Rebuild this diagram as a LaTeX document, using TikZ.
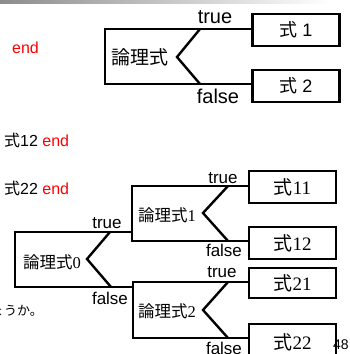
\documentclass[tikz,border=0pt]{standalone}
\usepackage{fontspec}
\setmainfont{Liberation Sans}
\newfontfamily\cjk{Noto Sans CJK JP}
\newfontfamily\serifd{Liberation Serif}
\begin{document}
\begin{tikzpicture}[x=1pt,y=-1pt,
  thick line/.style={line width=2.4pt},
  exprbox/.style={draw,line width=2.4pt,minimum width=87pt,inner sep=0pt,anchor=center},
  lbl/.style={inner sep=0pt,anchor=center},
  fsa/.style={font=\fontsize{20}{20}\selectfont},
  fsb/.style={font=\fontsize{17}{17}\selectfont},
  redtxt/.style={text=red}]
\useasboundingbox (0,0) rectangle (350,354);
\shade[left color=black!45, right color=white] (0,0) rectangle (330,3);

% ---------- left texts ----------
\node[lbl,anchor=west,redtxt,font=\fontsize{16}{16}\selectfont] (endA) at (12,48) {end};
\node[lbl,anchor=west,font=\fontsize{16}{16}\selectfont] (tB) at (4,140) {{\cjk 式}12 \textcolor{red}{end}};
\node[lbl,anchor=west,font=\fontsize{16}{16}\selectfont] (tC) at (4,188) {{\cjk 式}22 \textcolor{red}{end}};
\node[lbl,anchor=east,font=\fontsize{13}{13}\selectfont] (tD) at (43,311) {\cjk ょうか。};
\node[lbl,font=\fontsize{14}{14}\selectfont] (pg) at (341,345) {48};

% ---------- top diagram ----------
\node[exprbox,minimum height=32pt,font=\fontsize{18}{18}\selectfont] (e1) at (296,30) {{\cjk 式} 1};
\node[exprbox,minimum height=32pt,font=\fontsize{18}{18}\selectfont] (e2) at (296,86) {{\cjk 式} 2};
\node[lbl,font=\fontsize{19}{19}\selectfont] (lt) at (140,57) {\cjk 論理式};
\coordinate (tT) at (105,29);
\coordinate (tB0) at (105,84);
\draw[thick line] (tT -| e1.west) -- (tT) -- (tB0) -- (tB0 -| e2.west);
\coordinate (tv) at (177,57);
\draw[thick line] (200,29) -- (tv) -- (200,84);
\node[lbl,fsa] (ttrue) at (215,17) {true};
\node[lbl,fsa] (tfalse) at (218,96) {false};

% ---------- bottom diagram ----------
\node[exprbox,minimum height=32pt,font=\fontsize{19}{19}\selectfont] (e11) at (292.5,187) {{\cjk 式}{\serifd 11}};
\node[exprbox,minimum height=32pt,font=\fontsize{19}{19}\selectfont] (e12) at (292.5,243) {{\cjk 式}{\serifd 12}};
\node[exprbox,minimum height=30pt,font=\fontsize{19}{19}\selectfont] (e21) at (292.5,283) {{\cjk 式}{\serifd 21}};
\node[exprbox,minimum height=36pt,font=\fontsize{19}{19}\selectfont] (e22) at (292.5,342) {{\cjk 式}{\serifd 22}};

\node[lbl,font=\fontsize{16.5}{16.5}\selectfont] (l1) at (167,215) {{\cjk 論理式}{\serifd 1}};
\node[lbl,font=\fontsize{16.5}{16.5}\selectfont] (l0) at (52,262) {{\cjk 論理式}{\serifd 0}};
\node[lbl,font=\fontsize{16.5}{16.5}\selectfont] (l2) at (167,311) {{\cjk 論理式}{\serifd 2}};

% bracket 1
\coordinate (a1) at (132,186);
\coordinate (b1) at (132,241);
\draw[thick line] (a1 -| e11.west) -- (a1) -- (b1) -- (b1 -| e12.west);
\draw[thick line] (228,186) -- (203,213) -- (228,241);
% bracket 0
\coordinate (a0) at (15,232);
\coordinate (b0) at (15,287);
\draw[thick line] (a0 -| a1) -- (a0) -- (b0) -- (b0 -| 133,0);
\draw[thick line] (110,232) -- (87,259) -- (111,287);
% bracket 2
\coordinate (a2) at (133,282);
\coordinate (b2) at (133,338);
\draw[thick line] (a2 -| e21.west) -- (a2) -- (b2) -- (b2 -| e22.west);
\draw[thick line] (228,282) -- (203,310) -- (228,338);

\node[lbl,fsb] (tr1) at (223,178) {true};
\node[lbl,fsb] (fa1) at (224,250) {false};
\node[lbl,fsb] (tr0) at (107,223) {true};
\node[lbl,fsb] (fa0) at (110,298) {false};
\node[lbl,fsb] (tr2) at (222,272) {true};
\node[lbl,fsb] (fa2) at (224,348) {false};
\end{tikzpicture}
\end{document}
